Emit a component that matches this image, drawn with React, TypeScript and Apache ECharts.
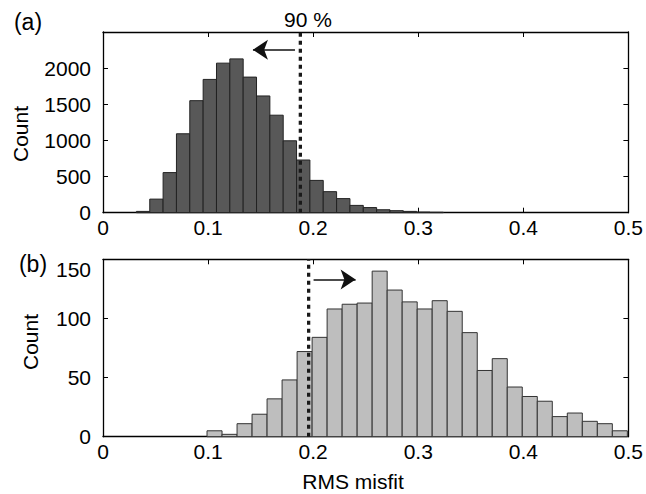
import { useEffect, useRef } from "react";
import * as echarts from "echarts";

// Shared x range / ticks for both panels (RMS misfit)
const xMin = 0;
const xMax = 0.5;
const xStep = 0.1;

// Panel (a): histogram bins and counts
const binStartA = 0.0318;
const binWidthA = 0.0127;
const countsA = [18, 188, 555, 1092, 1550, 1844, 2069, 2128, 1876, 1615, 1349, 995, 729, 447, 291, 195, 101, 71, 41, 28, 18, 9, 6];
const yMaxA = 2500;
const yStepA = 500;
const cutoffA = 0.1878;
const arrowA = { from: 0.1827, to: 0.1427, at: 2255 };

// Panel (b): histogram bins and counts
const binStartB = 0.099;
const binWidthB = 0.4 / 28;
const countsB = [5, 2, 11, 19, 32, 48, 72, 84, 108, 112, 113, 140, 124, 114, 108, 115, 106, 88, 56, 66, 42, 34, 30, 17, 20, 13, 11, 5];
const yMaxB = 150;
const yStepB = 50;
const cutoffB = 0.1957;
const arrowB = { from: 0.2004, to: 0.2404, at: 133 };

const FONT = "'Liberation Sans', Arial, Helvetica, sans-serif";
const TICK_FONT = 21;

function toBins(start: number, width: number, counts: number[]) {
  return counts.map((c, i) => [start + i * width, start + (i + 1) * width, c]);
}

function histRenderer(fill: string, stroke: string) {
  return (_params: any, api: any) => {
    const top = api.coord([api.value(0), api.value(2)]);
    const base = api.coord([api.value(1), 0]);
    return {
      type: "rect",
      shape: { x: top[0], y: top[1], width: base[0] - top[0], height: base[1] - top[1] },
      style: { fill, stroke, lineWidth: 1 },
    };
  };
}

const frameLine = { show: true, onZero: false, lineStyle: { color: "#000", width: 1.3 } };
const inTick = { show: true, inside: true, length: 5, lineStyle: { color: "#000", width: 1 } };
const plainNumber = (v: number) => String(Math.round(v * 1000) / 1000);

function xAxes(gridIndex: number) {
  return [
    {
      type: "value",
      gridIndex,
      min: xMin,
      max: xMax,
      interval: xStep,
      position: "bottom",
      axisLine: frameLine,
      axisTick: inTick,
      splitLine: { show: false },
      axisLabel: { fontSize: TICK_FONT, fontFamily: FONT, color: "#000", margin: 4, formatter: plainNumber },
    },
    {
      type: "value",
      gridIndex,
      min: xMin,
      max: xMax,
      interval: xStep,
      position: "top",
      axisLine: frameLine,
      axisTick: inTick,
      splitLine: { show: false },
      axisLabel: { show: false },
    },
  ];
}

function yAxes(gridIndex: number, max: number, step: number, hideMax: boolean) {
  return [
    {
      type: "value",
      gridIndex,
      min: 0,
      max,
      interval: step,
      position: "left",
      axisLine: frameLine,
      axisTick: inTick,
      splitLine: { show: false },
      axisLabel: {
        fontSize: TICK_FONT,
        fontFamily: FONT,
        color: "#000",
        margin: 12,
        formatter: plainNumber,
        showMaxLabel: !hideMax,
        verticalAlignMaxLabel: hideMax ? undefined : "top",
      },
    },
    {
      type: "value",
      gridIndex,
      min: 0,
      max,
      interval: step,
      position: "right",
      axisLine: frameLine,
      axisTick: inTick,
      splitLine: { show: false },
      axisLabel: { show: false },
    },
  ];
}

function cutoffSeries(xAxisIndex: number, yAxisIndex: number, x: number, yMax: number) {
  return {
    type: "line",
    xAxisIndex,
    yAxisIndex,
    data: [
      [x, 0],
      [x, yMax],
    ],
    symbol: "none",
    silent: true,
    lineStyle: { color: "#1a1a1a", width: 3.3, type: [4, 4], cap: "butt" },
    z: 5,
  };
}

function arrowSeries(xAxisIndex: number, yAxisIndex: number, a: { from: number; to: number; at: number }) {
  return {
    type: "line",
    xAxisIndex,
    yAxisIndex,
    data: [],
    silent: true,
    markLine: {
      silent: true,
      symbol: ["none", "arrow"],
      symbolSize: 15,
      label: { show: false },
      lineStyle: { color: "#111", width: 1.5, type: "solid" },
      data: [[{ coord: [a.from, a.at] }, { coord: [a.to, a.at] }]],
    },
    z: 6,
  };
}

export default function App() {
  const ref = useRef<HTMLDivElement>(null);

  useEffect(() => {
    if (!ref.current) return;
    const chart = echarts.init(ref.current, null, { renderer: "svg" });

    const textStyle = (text: string, size: number) => ({
      text,
      fontSize: size,
      fontFamily: FONT,
      fill: "#000",
      align: "center",
      verticalAlign: "middle",
    });

    chart.setOption({
      animation: false,
      backgroundColor: "#fff",
      grid: [
        { left: 103, top: 32, width: 529, height: 180.7 },
        { left: 103, top: 259.3, width: 528.5, height: 177.4 },
      ],
      xAxis: [...xAxes(0), ...xAxes(1)],
      yAxis: [...yAxes(0, yMaxA, yStepA, true), ...yAxes(1, yMaxB, yStepB, false)],
      series: [
        {
          type: "custom",
          xAxisIndex: 0,
          yAxisIndex: 0,
          renderItem: histRenderer("#585858", "#222"),
          encode: { x: [0, 1], y: 2 },
          data: toBins(binStartA, binWidthA, countsA),
          z: 2,
        },
        cutoffSeries(0, 0, cutoffA, yMaxA),
        arrowSeries(0, 0, arrowA),
        {
          type: "custom",
          xAxisIndex: 2,
          yAxisIndex: 2,
          renderItem: histRenderer("#bebebe", "#333"),
          encode: { x: [0, 1], y: 2 },
          data: toBins(binStartB, binWidthB, countsB),
          z: 2,
        },
        cutoffSeries(2, 2, cutoffB, yMaxB),
        arrowSeries(2, 2, arrowB),
      ],
      graphic: [
        { type: "text", x: 28, y: 22, style: textStyle("(a)", 23) },
        { type: "text", x: 33, y: 264, style: textStyle("(b)", 23) },
        { type: "text", x: 308, y: 19.5, style: textStyle("90 %", 21) },
        { type: "text", x: 20, y: 134, rotation: Math.PI / 2, style: textStyle("Count", 21) },
        { type: "text", x: 30.5, y: 342, rotation: Math.PI / 2, style: textStyle("Count", 21) },
        { type: "text", x: 353, y: 481, style: textStyle("RMS misfit", 21) },
      ],
    });

    return () => chart.dispose();
  }, []);

  return (
    <div
      ref={ref}
      style={{ position: "fixed", left: 0, top: 0, width: 646, height: 494, background: "#fff" }}
    />
  );
}
